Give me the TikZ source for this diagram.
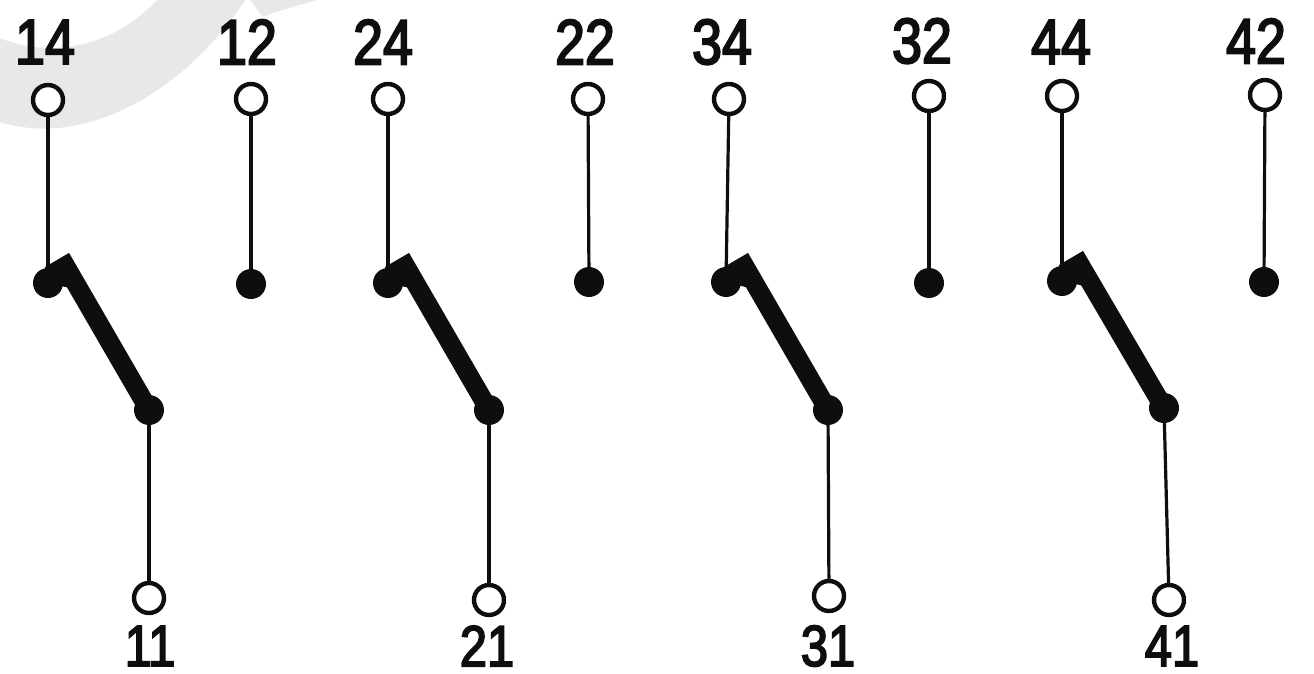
\documentclass[tikz,border=0pt]{standalone}
\usepackage{fontspec}
\usepackage{tikz}
\usetikzlibrary{positioning,backgrounds,calc}
\newfontfamily\pinfont[FakeStretch=0.84,FakeBold=3]{Liberation Sans}
\definecolor{markGray}{RGB}{232, 232, 232}
\definecolor{inkBlack}{RGB}{14, 14, 14}

\begin{document}
\begin{tikzpicture}[
        x=1pt, y=-1pt,
        pin/.style={circle, draw=inkBlack, fill=white, line width=4.4pt, minimum size=30pt, inner sep=0pt},
        contact/.style={circle, fill=inkBlack, minimum size=30pt, inner sep=0pt},
        pinlabel/.style={font=\pinfont\fontsize{64}{64}\selectfont, text=inkBlack, inner sep=0pt},
        pinlabellow/.style={font=\pinfont\fontsize{58}{58}\selectfont, text=inkBlack, inner sep=0pt},
        wire/.style={line width=3.2pt, draw=inkBlack},
        blade/.style={line width=19pt, draw=inkBlack},
        bladetip/.style={fill=inkBlack}
    ]
        \useasboundingbox (0,0) rectangle (1314,674);

        % Top terminals
        \node[pin] (c14) at (48,100) {};
        \node[pin] (c12) at (251,99) {};
        \node[pin] (c24) at (388,99) {};
        \node[pin] (c22) at (588,99) {};
        \node[pin] (c34) at (729,99) {};
        \node[pin] (c32) at (929,96) {};
        \node[pin] (c44) at (1062,96) {};
        \node[pin] (c42) at (1265,95) {};

        % Top labels
        \node[pinlabel] (t14) at (45,42) {14};
        \node[pinlabel] (t12) at (247,42) {12};
        \node[pinlabel] (t24) at (383,42) {24};
        \node[pinlabel] (t22) at (585,42) {22};
        \node[pinlabel] (t34) at (722,42) {34};
        \node[pinlabel] (t32) at (922,41) {32};
        \node[pinlabel] (t44) at (1061,42) {44};
        \node[pinlabel] (t42) at (1256,41) {42};

        % Fixed contacts
        \node[contact] (d14) at (48,283) {};
        \node[contact] (d12) at (251,284) {};
        \node[contact] (d24) at (388,283) {};
        \node[contact] (d22) at (589,282) {};
        \node[contact] (d34) at (726,282) {};
        \node[contact] (d32) at (929,283) {};
        \node[contact] (d44) at (1062,281) {};
        \node[contact] (d42) at (1264,282) {};

        % Pivots
        \node[contact] (p1) at (149,410) {};
        \node[contact] (p2) at (489,410) {};
        \node[contact] (p3) at (828,410) {};
        \node[contact] (p4) at (1164,408) {};

        % Blade tips
        \coordinate (b1) at (61,258);
        \coordinate (b2) at (401,258);
        \coordinate (b3) at (740,258);
        \coordinate (b4) at (1075,256);

        % Bottom terminals
        \node[pin] (c11) at (149,598) {};
        \node[pin] (c21) at (489,600) {};
        \node[pin] (c31) at (829,596) {};
        \node[pin] (c41) at (1169,600) {};

        % Bottom labels
        \node[pinlabellow] (t11) at (150,646) {11};
        \node[pinlabellow] (t21) at (487,646) {21};
        \node[pinlabellow] (t31) at (828,646) {31};
        \node[pinlabellow] (t41) at (1172,646) {41};

        % Wires
        \draw[wire] (c14) -- (d14);
        \draw[wire] (c12) -- (d12);
        \draw[wire] (c24) -- (d24);
        \draw[wire] (c22) -- (d22);
        \draw[wire] (c34) -- (d34);
        \draw[wire] (c32) -- (d32);
        \draw[wire] (c44) -- (d44);
        \draw[wire] (c42) -- (d42);
        \draw[wire] (p1) -- (c11);
        \draw[wire] (p2) -- (c21);
        \draw[wire] (p3) -- (c31);
        \draw[wire] (p4) -- (c41);

        % Blades
        \draw[blade] (p1.center) -- (b1);
        \draw[blade] (p2.center) -- (b2);
        \draw[blade] (p3.center) -- (b3);
        \draw[blade] (p4.center) -- (b4);
        \fill[bladetip] (d14.center) -- ($(b1)+(-16,9)$) -- ($(b1)+(8,-5)$) -- ($(b1)+(9,30)$) -- cycle;
        \fill[bladetip] (d24.center) -- ($(b2)+(-16,9)$) -- ($(b2)+(8,-5)$) -- ($(b2)+(9,30)$) -- cycle;
        \fill[bladetip] (d34.center) -- ($(b3)+(-16,9)$) -- ($(b3)+(8,-5)$) -- ($(b3)+(9,30)$) -- cycle;
        \fill[bladetip] (d44.center) -- ($(b4)+(-16,9)$) -- ($(b4)+(8,-5)$) -- ($(b4)+(9,30)$) -- cycle;

        % Watermark
        \begin{scope}[on background layer]
            \fill[markGray] (0,38) .. controls (40,55) and (105,55) .. (157,0) -- (245,0)
                .. controls (190,85) and (90,150) .. (0,122) -- cycle;
            \fill[markGray] (250,0) -- (263,17) .. controls (280,10) and (300,5) .. (317,0) -- cycle;
        \end{scope}
    \end{tikzpicture}
\end{document}
